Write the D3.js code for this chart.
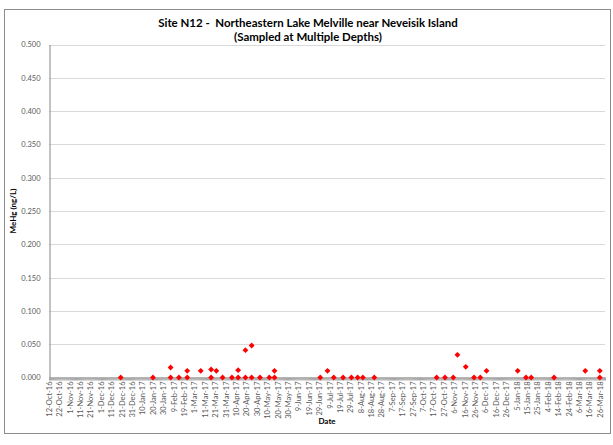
<!DOCTYPE html>
<html>
<head>
<meta charset="utf-8">
<script src="https://cdn.jsdelivr.net/npm/d3@7"></script>
<style>
  body { margin: 0; background: #fff; }
  svg { display: block; font-family: Lato, "Open Sans", sans-serif; }
</style>
</head>
<body>
<svg id="chart"></svg>
<script>
// sample dates and MeHg results (ng/L), several depths per date
const sampleDates = [
  "2016-12-20", "2017-01-20", "2017-02-06", "2017-02-06", "2017-02-14",
  "2017-02-22", "2017-02-22", "2017-03-07", "2017-03-17", "2017-03-17",
  "2017-03-22", "2017-03-28", "2017-04-06", "2017-04-12", "2017-04-12",
  "2017-04-19", "2017-04-19", "2017-04-25", "2017-04-25", "2017-05-03",
  "2017-05-12", "2017-05-17", "2017-05-17", "2017-06-30", "2017-07-07",
  "2017-07-13", "2017-07-22", "2017-07-30", "2017-08-05", "2017-08-10",
  "2017-08-21", "2017-10-20", "2017-10-28", "2017-11-05", "2017-11-09",
  "2017-11-17", "2017-11-25", "2017-12-01", "2017-12-07", "2018-01-06",
  "2018-01-14", "2018-01-19", "2018-02-10", "2018-03-12", "2018-03-26",
  "2018-03-26"
];
const mehgValues = [
  0.000, 0.000, 0.015, 0.000, 0.000,
  0.010, 0.000, 0.010, 0.012, 0.000,
  0.010, 0.000, 0.000, 0.011, 0.000,
  0.041, 0.000, 0.048, 0.000, 0.000,
  0.000, 0.010, 0.000, 0.000, 0.010,
  0.000, 0.000, 0.000, 0.000, 0.000,
  0.000, 0.000, 0.000, 0.000, 0.034,
  0.016, 0.000, 0.000, 0.010, 0.010,
  0.000, 0.000, 0.000, 0.010, 0.010,
  0.000
];
const yTicks = [0, 0.05, 0.1, 0.15, 0.2, 0.25, 0.3, 0.35, 0.4, 0.45, 0.5];
const axisStart = "2016-10-12";
const axisEnd = "2018-03-31";
const labelStepDays = 10;

const width = 613, height = 445;
const margin = { top: 44, right: 5, bottom: 68, left: 49 };

const parse = d3.timeParse("%Y-%m-%d");
const fmtDate = d => `${d.getDate()}-${d3.timeFormat("%b-%y")(d)}`;

const svg = d3.select("#chart")
  .attr("width", width)
  .attr("height", height);

// chart frame
svg.append("rect")
  .attr("x", 4.5).attr("y", 9.5)
  .attr("width", 606).attr("height", 424)
  .attr("fill", "#fff")
  .attr("stroke", "#8c8c8c")
  .attr("stroke-width", 1);

const x = d3.scaleTime()
  .domain([parse(axisStart), parse(axisEnd)])
  .range([margin.left, width - margin.right - 3]);

const y = d3.scaleLinear()
  .domain([0, 0.5])
  .range([377.5, 44.5]);

// gridlines
svg.append("g")
  .selectAll("line")
  .data(yTicks.slice(1))
  .join("line")
  .attr("x1", x.range()[0])
  .attr("x2", x.range()[1])
  .attr("y1", d => Math.round(y(d)) + 0.5)
  .attr("y2", d => Math.round(y(d)) + 0.5)
  .attr("stroke", "#d9d9d9")
  .attr("stroke-width", 1);

// y axis
const yAxis = svg.append("g")
  .attr("transform", `translate(${x.range()[0] + 0.5},0)`)
  .call(d3.axisLeft(y).tickValues(yTicks).tickFormat(d3.format(".3f")).tickSize(0).tickPadding(9));
yAxis.select(".domain").attr("stroke", "#868686");
yAxis.selectAll("text")
  .attr("font-size", 7.5)
  .attr("fill", "#595959")
  .attr("font-family", "Lato, sans-serif");

// x axis: daily minor ticks, labels every 10 days
const labelDates = d3.range(0, d3.timeDay.count(parse(axisStart), parse(axisEnd)) + 1, labelStepDays)
  .map(n => d3.timeDay.offset(parse(axisStart), n));
const dayTicks = d3.timeDay.range(parse(axisStart), d3.timeDay.offset(parse(axisEnd), 1));

const xAxisG = svg.append("g")
  .attr("transform", `translate(0,${y(0)})`);

xAxisG.call(d3.axisBottom(x).tickValues(dayTicks).tickFormat("").tickSize(3).tickSizeOuter(0));
xAxisG.select(".domain").attr("stroke", "#868686");
xAxisG.selectAll(".tick line").attr("stroke", "#a6a6a6");

const xLabels = svg.append("g")
  .attr("transform", `translate(0,${y(0)})`)
  .call(d3.axisBottom(x).tickValues(labelDates).tickFormat(fmtDate).tickSize(0).tickPadding(4));
xLabels.select(".domain").remove();
xLabels.selectAll("text")
  .attr("font-size", 7.5)
  .attr("fill", "#595959")
  .attr("font-family", "Lato, sans-serif")
  .attr("text-anchor", "end")
  .attr("dy", "0.32em")
  .attr("transform", "translate(0,4) rotate(-90)")
  .attr("x", 0)
  .attr("y", 0);

// data points (red diamonds)
const points = sampleDates.map((d, i) => ({ date: parse(d), value: mehgValues[i] }));
svg.append("g")
  .selectAll("path")
  .data(points)
  .join("path")
  .attr("d", d3.symbol(d3.symbolSquare, 17))
  .attr("transform", d => `translate(${x(d.date)},${y(d.value)}) rotate(45)`)
  .attr("fill", "#ff0000");

// title, centred on the chart, first line fitted to ~300px
const title = svg.append("text")
  .attr("text-anchor", "middle")
  .attr("font-weight", "bold")
  .attr("font-size", 12)
  .style("white-space", "pre");
const t1 = title.append("tspan").attr("x", 308).attr("y", 27)
  .text("Site N12 -  Northeastern Lake Melville near Neveisik Island");
const fitSize = 12 * 300 / t1.node().getComputedTextLength();
title.attr("font-size", Math.min(13, fitSize));
title.append("tspan").attr("x", 308).attr("y", 40.5)
  .text("(Sampled at Multiple Depths)");

svg.append("text")
  .attr("transform", `translate(16,${(y(0) + y(0.5)) / 2}) rotate(-90)`)
  .attr("text-anchor", "middle")
  .attr("font-weight", "bold")
  .attr("font-size", 8)
  .text("MeHg (ng/L)");

svg.append("text")
  .attr("x", 327)
  .attr("y", 424)
  .attr("text-anchor", "middle")
  .attr("font-weight", "bold")
  .attr("font-size", 8)
  .text("Date");
</script>
</body>
</html>
